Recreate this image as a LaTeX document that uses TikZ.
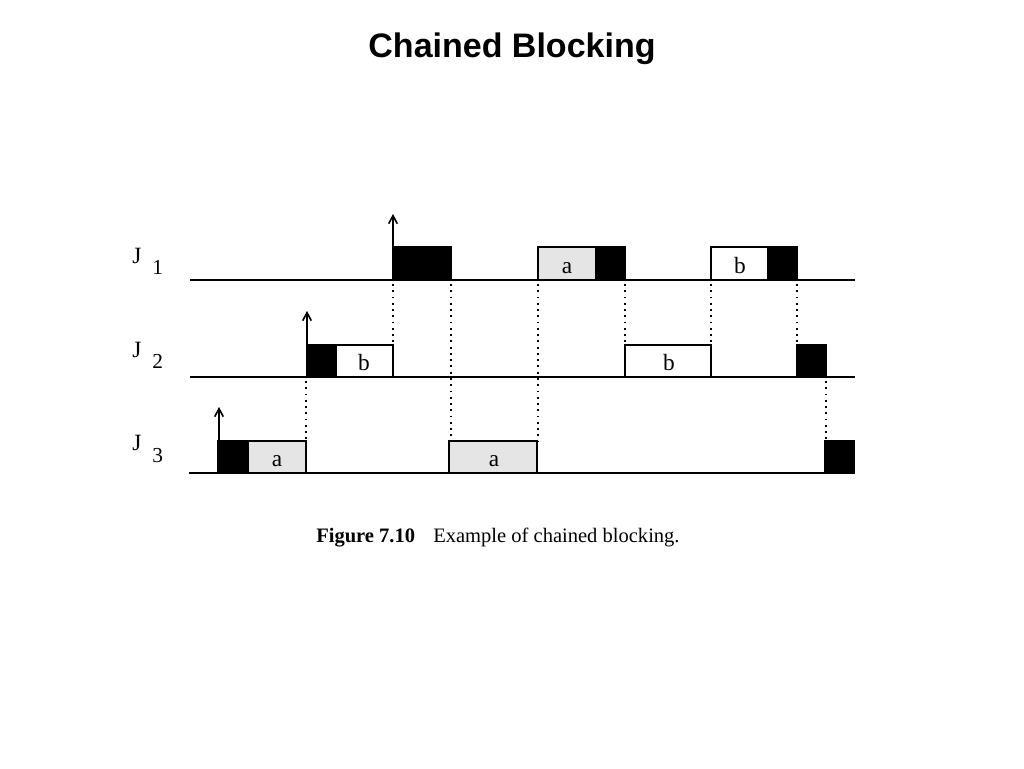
\documentclass[tikz,border=0pt]{standalone}
\usepackage{fontspec}
\setmainfont{Liberation Serif}
\newfontfamily\titlefont{Liberation Sans}
\usetikzlibrary{arrows.meta}
\begin{document}
\begin{tikzpicture}[x=0.75pt,y=-0.75pt,
  axisline/.style={line width=1.3pt,draw=black},
  blkbox/.style={fill=black,draw=black,line width=1pt},
  grybox/.style={fill=black!10,draw=black,line width=1.3pt},
  whtbox/.style={fill=white,draw=black,line width=1.3pt},
  dotline/.style={line width=1.4pt,dash pattern=on 1.4pt off 3.3pt},
  release/.style={line width=1.2pt,-{Straight Barb[length=6pt,width=6.5pt,line width=1.2pt]}},
  boxlabel/.style={font={\fontsize{17.5}{17.5}\selectfont},inner sep=0pt},
  jlabel/.style={font={\fontsize{17.5}{17.5}\selectfont},inner sep=0pt,anchor=base west},
  jsub/.style={font={\fontsize{16}{16}\selectfont},inner sep=0pt,anchor=base west},
]
\useasboundingbox (0,0) rectangle (1024,768);
% title
\node[font=\titlefont\bfseries\fontsize{25.5}{25.5}\selectfont,anchor=base,inner sep=0pt] (title) at (512,57) {Chained Blocking};
% row labels
\node[jlabel] (j1) at (132,263) {J};
\node[jsub] (j1s) at (152,274) {1};
\node[jlabel] (j2) at (132,357) {J};
\node[jsub] (j2s) at (152,368) {2};
\node[jlabel] (j3) at (132,450) {J};
\node[jsub] (j3s) at (152,462) {3};
% dotted lines
\draw[dotline] (393,284) -- (393,345);
\draw[dotline] (451,284) -- (451,441);
\draw[dotline] (306,381) -- (306,441);
\draw[dotline] (538,284) -- (538,441);
\draw[dotline] (625,284) -- (625,345);
\draw[dotline] (711,284) -- (711,345);
\draw[dotline] (797,284) -- (797,345);
\draw[dotline] (826,381) -- (826,441);
% J1 boxes
\draw[blkbox] (393,247) rectangle (451,280);
\draw[grybox] (538,247) rectangle (596,280);
\draw[blkbox] (596,247) rectangle (625,280);
\draw[whtbox] (711,247) rectangle (768,280);
\draw[blkbox] (768,247) rectangle (797,280);
\node[boxlabel] (a1) at (567,268) {a};
\node[boxlabel] (b1) at (740,266) {b};
% J2 boxes
\draw[blkbox] (307,345) rectangle (336,377);
\draw[whtbox] (336,345) rectangle (393,377);
\draw[whtbox] (625,345) rectangle (711,377);
\draw[blkbox] (797,345) rectangle (826,377);
\node[boxlabel] (b2) at (364,363) {b};
\node[boxlabel] (b3) at (669,363) {b};
% J3 boxes
\draw[blkbox] (218,441) rectangle (248,473);
\draw[grybox] (248,441) rectangle (306,473);
\draw[grybox] (449,441) rectangle (537,473);
\draw[blkbox] (825,441) rectangle (854,473);
\node[boxlabel] (a2) at (277,461) {a};
\node[boxlabel] (a3) at (494,461) {a};
% axes
\coordinate (ax1s) at (190,280); \coordinate (ax1e) at (855,280);
\coordinate (ax2s) at (190,377); \coordinate (ax2e) at (855,377);
\coordinate (ax3s) at (189,473); \coordinate (ax3e) at (855,473);
\draw[axisline] (ax1s) -- (ax1e);
\draw[axisline] (ax2s) -- (ax2e);
\draw[axisline] (ax3s) -- (ax3e);
% release arrows
\coordinate (r1) at (393,280); \coordinate (t1) at (393,214);
\coordinate (r2) at (307,377); \coordinate (t2) at (307,311);
\coordinate (r3) at (219,473); \coordinate (t3) at (219,407);
\draw[release] (r1) -- (t1);
\draw[release] (r2) -- (t2);
\draw[release] (r3) -- (t3);
% caption
\node[font=\fontsize{15.4}{15.4}\selectfont,anchor=base west,inner sep=0pt] (cap1) at (316,542) {\textbf{Figure 7.10}};
\node[font=\fontsize{15.4}{15.4}\selectfont,anchor=base west,inner sep=0pt] (cap2) at (433,542) {Example of chained blocking.};
\end{tikzpicture}
\end{document}
